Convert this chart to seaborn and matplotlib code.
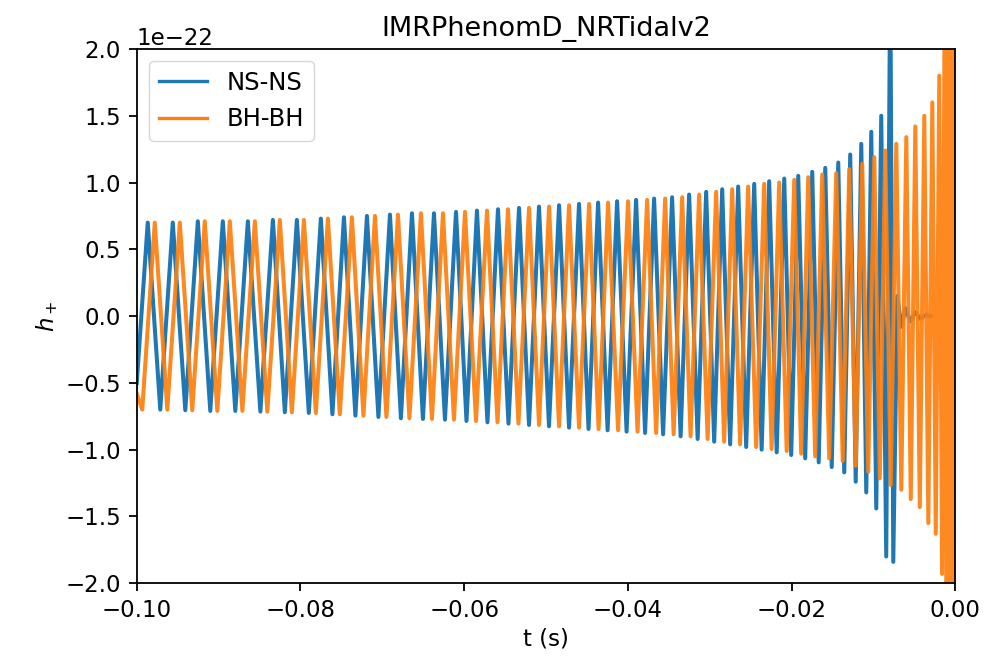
import numpy as np
import pandas as pd
import matplotlib
matplotlib.use("Agg")
import matplotlib.pyplot as plt
import seaborn as sns

# ---- data (time in ms, strain in units of 1e-22) ----
ns_t_ms = [-100.0, -98.66, -97.13, -95.60, -94.07, -92.54, -91.02, -89.49, -87.96, -86.43,
           -84.90, -83.37, -81.91, -80.44, -78.98, -77.51, -76.10, -74.69, -73.29, -71.88,
           -70.48, -69.07, -67.73, -66.38, -65.04, -63.69, -62.35, -61.00, -59.72, -58.44,
           -57.16, -55.87, -54.59, -53.30, -52.08, -50.86, -49.64, -48.41, -47.19, -45.97,
           -44.81, -43.64, -42.48, -41.32, -40.16, -39.00, -37.90, -36.80, -35.70, -34.60,
           -33.56, -32.52, -31.48, -30.44, -29.46, -28.48, -27.51, -26.53, -25.55, -24.57,
           -23.66, -22.74, -21.82, -20.90, -20.05, -19.19, -18.34, -17.48, -16.69, -15.89,
           -15.10, -14.30, -13.57, -12.84, -12.17, -11.49, -10.88, -10.27, -9.66, -9.05,
           -8.44, -7.95, -7.58, -7.09, -6.60, -6.11, -5.50, -4.89, -4.28, -3.55, -3.00]
ns_h = [-0.50, 0.70, -0.70, 0.70, -0.705, 0.71, -0.71, 0.71, -0.71, 0.71,
        -0.715, 0.72, -0.72, 0.72, -0.725, 0.73, -0.735, 0.74, -0.745, 0.75,
        -0.755, 0.76, -0.765, 0.77, -0.77, 0.77, -0.775, 0.78, -0.785, 0.79,
        -0.795, 0.80, -0.805, 0.81, -0.815, 0.82, -0.825, 0.83, -0.835, 0.84,
        -0.845, 0.85, -0.855, 0.86, -0.865, 0.87, -0.875, 0.88, -0.885, 0.89,
        -0.90, 0.91, -0.92, 0.93, -0.94, 0.95, -0.96, 0.97, -0.98, 0.99,
        -1.00, 1.01, -1.02, 1.03, -1.04, 1.05, -1.065, 1.08, -1.095, 1.11,
        -1.13, 1.15, -1.17, 1.21, -1.24, 1.29, -1.32, 1.38, -1.44, 1.50,
        -1.80, 2.60, -1.84, 0.15, -0.08, 0.06, -0.04, 0.03, -0.02, 0.01, 0.0]

bh_t_ms = [-100.0, -99.33, -97.80, -96.27, -94.74, -93.22, -91.69, -90.16, -88.63, -87.10,
           -85.57, -84.05, -82.52, -81.05, -79.58, -78.12, -76.65, -75.19, -73.72, -72.31,
           -70.90, -69.50, -68.09, -66.69, -65.28, -63.94, -62.59, -61.25, -59.90, -58.56,
           -57.21, -55.93, -54.65, -53.37, -52.08, -50.86, -49.63, -48.41, -47.19, -45.97,
           -44.74, -43.58, -42.42, -41.20, -39.98, -38.82, -37.65, -36.55, -35.45, -34.41,
           -33.37, -32.34, -31.30, -30.26, -29.22, -28.24, -27.26, -26.29, -25.31, -24.33,
           -23.35, -22.44, -21.52, -20.60, -19.68, -18.83, -17.97, -17.12, -16.26, -15.41,
           -14.55, -13.76, -12.96, -12.17, -11.37, -10.64, -9.90, -9.23, -8.56, -7.89,
           -7.21, -6.60, -5.99, -5.44, -4.89, -4.34, -3.79, -3.30, -2.81, -2.39,
           -1.96, -1.62, -1.32, -1.06, -0.83, -0.62, -0.44, -0.28, -0.14, 0.0]
bh_h = [-0.58, -0.70, 0.70, -0.70, 0.70, -0.705, 0.71, -0.71, 0.71, -0.71,
        0.71, -0.715, 0.72, -0.72, 0.72, -0.725, 0.73, -0.735, 0.74, -0.745,
        0.75, -0.755, 0.76, -0.765, 0.77, -0.77, 0.77, -0.775, 0.78, -0.785,
        0.79, -0.795, 0.80, -0.805, 0.81, -0.815, 0.82, -0.825, 0.83, -0.835,
        0.84, -0.845, 0.85, -0.855, 0.86, -0.865, 0.87, -0.875, 0.88, -0.885,
        0.89, -0.90, 0.91, -0.92, 0.93, -0.94, 0.95, -0.96, 0.97, -0.98,
        0.99, -0.995, 1.00, -1.01, 1.02, -1.03, 1.04, -1.05, 1.06, -1.065,
        1.07, -1.085, 1.10, -1.12, 1.14, -1.165, 1.19, -1.215, 1.24, -1.265,
        1.29, -1.30, 1.34, -1.37, 1.42, -1.43, 1.50, -1.55, 1.60, -1.63,
        1.80, -1.93, 2.20, -2.40, 2.60, -2.80, 3.00, -3.00, 3.00, -3.00]

series_labels = ["NS-NS", "BH-BH"]
title_text = "IMRPhenomD_NRTidalv2"

ns = pd.DataFrame({"t": np.array(ns_t_ms) / 1000.0, "h": np.array(ns_h) * 1e-22})
bh = pd.DataFrame({"t": np.array(bh_t_ms) / 1000.0, "h": np.array(bh_h) * 1e-22})

plt.rcParams.update({
    "font.family": ["DejaVu Sans"],
    "font.size": 16.5,
    "axes.linewidth": 1.3,
    "xtick.major.size": 5.8, "ytick.major.size": 5.8,
    "xtick.major.width": 1.3, "ytick.major.width": 1.3,
    "xtick.major.pad": 5.5, "ytick.major.pad": 5.5,
    "axes.unicode_minus": True,
})

fig = plt.figure(figsize=(9.91, 6.62), dpi=100)
ax = fig.add_axes([0.138, 0.119, 0.826, 0.807])

sns.lineplot(data=ns, x="t", y="h", ax=ax, label=series_labels[0], color="#1f77b4",
             linewidth=2.9, sort=False, estimator=None)
sns.lineplot(data=bh, x="t", y="h", ax=ax, label=series_labels[1], color="#ff7f0e",
             linewidth=2.9, sort=False, estimator=None, alpha=0.92)

ax.set_xlim(-0.1, 0.0)
ax.set_ylim(-2e-22, 2e-22)
ax.set_xticks([-0.10, -0.08, -0.06, -0.04, -0.02, 0.00])
ax.set_yticks(np.arange(-2.0, 2.01, 0.5) * 1e-22)
ax.set_xlabel("t (s)")
ax.set_ylabel("$h_+$")
ax.set_title(title_text, fontsize=19.5, pad=9)
leg = ax.legend(loc="upper left", fontsize=17.5, framealpha=0.8, handlelength=2.0)
for line in leg.get_lines():
    line.set_linewidth(2.4)
    line.set_alpha(1.0)

fig.savefig("out.png", dpi=100)
